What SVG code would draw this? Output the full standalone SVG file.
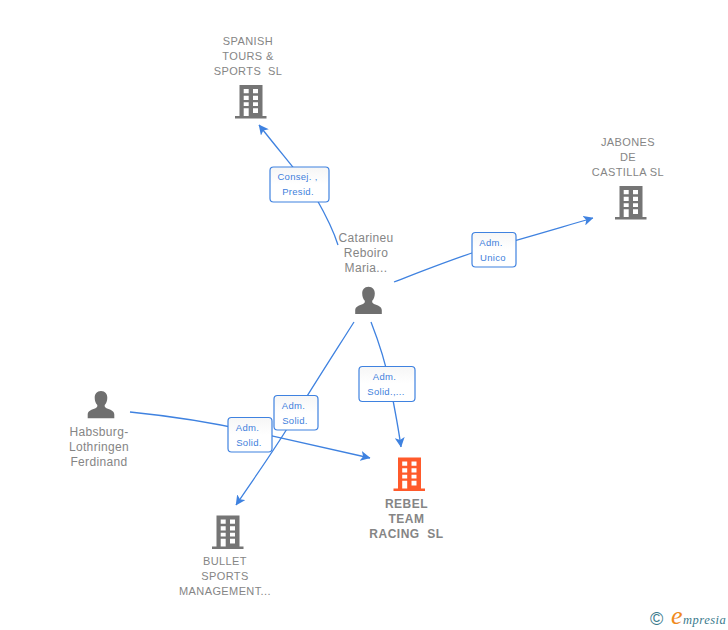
<svg xmlns="http://www.w3.org/2000/svg" width="728" height="630" viewBox="0 0 728 630">
<style>
.n{font:11px "Liberation Sans",Arial,sans-serif;fill:#858585;text-anchor:middle;letter-spacing:.4px}
.p{font:12px "Liberation Sans",Arial,sans-serif;fill:#858585;text-anchor:middle;letter-spacing:.35px}
.m{font:bold 12px "Liberation Sans",Arial,sans-serif;fill:#858585;text-anchor:middle;letter-spacing:.5px}
.l{font:9.5px "Liberation Sans",Arial,sans-serif;fill:#3f7fdc;text-anchor:middle;letter-spacing:.3px}
.c{fill:none;stroke:#3f82e0;stroke-width:1.3;marker-end:url(#a)}
.b{fill:url(#g);stroke:#3f82e0;stroke-width:1.2}
.gb{fill:#757575}.ob{fill:#ff5a2b}
</style>
<defs>
<linearGradient id="g" x1="0" y1="0" x2="0" y2="1"><stop offset="0" stop-color="#f6f6f6"/><stop offset=".5" stop-color="#fff"/></linearGradient>
<marker id="a" viewBox="0 0 10 10" refX="9.500" refY="5" markerWidth="10" markerHeight="10" markerUnits="userSpaceOnUse" orient="auto"><path d="M0 0L10 5L0 10L2.500 5Z" fill="#3f82e0"/></marker>
<symbol id="bld" viewBox="0 0 32 34" width="32" height="34" overflow="visible"><path fill-rule="evenodd" d="M4.500 0H27.500V31H31.500V33.500H0V31H4.500ZM8.700 4V8.300H13.700V4ZM18 4V8.300H23V4ZM8.700 10.700V15H13.700V10.700ZM18 10.700V15H23V10.700ZM8.700 17.300V21H13.700V17.300ZM18 17.300V21H23V17.300ZM8.700 23.300V31H13.700V23.300ZM18 23.300V28H23V23.300Z"/></symbol>
<path id="per" d="M0 0C-4.200 0-6.300 3-6.300 6.700C-6.300 9.800-5.200 12.300-3.700 14C-3.500 15.500-4 16.500-5.500 17.200C-9 18.600-13.300 19.500-13.300 23.500V27.300H13.300V23.500C13.300 19.500 9 18.600 5.500 17.200C4 16.500 3.500 15.500 3.700 14C5.200 12.300 6.300 9.800 6.300 6.700C6.300 3 4.200 0 0 0Z" fill="#6f6f6f"/>
</defs>
<g id="connectors">
<path class="c" d="M338 245C332 226 324 212 316 198C306 182 285 158 259 125"/>
<path class="c" d="M394 282C425 270 450 260 478 251C515 241 555 229 593 218"/>
<path class="c" d="M371 322C380 345 386 365 390 385C394 405 398 425 401 447"/>
<path class="c" d="M130 412C170 416 205 421 250 431C290 440 330 449 370 458"/>
<path class="c" d="M354 322C335 352 315 383 296 414C278 445 257 474 236 505"/>
</g>
<g id="label-consej"><rect class="b" x="270" y="167" width="59" height="35" rx="3.500"/><text class="l" x="297.500" y="180">Consej. ,</text><text class="l" x="298" y="195">Presid.</text></g>
<g id="label-unico"><rect class="b" x="472" y="232.500" width="44" height="34.500" rx="3.500"/><text class="l" x="491" y="246">Adm.</text><text class="l" x="493" y="261">Unico</text></g>
<g id="label-solid1"><rect class="b" x="359" y="366.500" width="56" height="35" rx="3.500"/><text class="l" x="384.500" y="380">Adm.</text><text class="l" x="386" y="395">Solid.,...</text></g>
<g id="label-solid2"><rect class="b" x="228" y="417.500" width="44" height="34.500" rx="3.500"/><text class="l" x="247.500" y="431">Adm.</text><text class="l" x="249" y="446">Solid.</text></g>
<g id="label-solid3"><rect class="b" x="274" y="395.500" width="44" height="34.500" rx="3.500"/><text class="l" x="293.500" y="409">Adm.</text><text class="l" x="295" y="424">Solid.</text></g>
<g id="spanish"><text class="n" x="248" y="45">SPANISH</text><text class="n" x="248" y="60">TOURS &amp;</text><text class="n" x="248" y="75">SPORTS&#160; SL</text><use href="#bld" class="gb" x="235" y="85"/></g>
<g id="jabones"><text class="n" x="628" y="146">JABONES</text><text class="n" x="628" y="161">DE</text><text class="n" x="628" y="176">CASTILLA SL</text><use href="#bld" class="gb" x="615" y="186"/></g>
<g id="catarineu"><text class="p" x="366" y="242">Catarineu</text><text class="p" x="366" y="257">Reboiro</text><text class="p" x="366" y="272">Maria...</text><use href="#per" x="368.500" y="286.700"/></g>
<g id="habsburg"><text class="p" x="99" y="436">Habsburg-</text><text class="p" x="99" y="451">Lothringen</text><text class="p" x="99" y="466">Ferdinand</text><use href="#per" x="101" y="391"/></g>
<g id="rebel"><use href="#bld" class="ob" x="393.500" y="457.500"/><text class="m" x="406.500" y="508">REBEL</text><text class="m" x="406.500" y="523">TEAM</text><text class="m" x="406.500" y="538">RACING&#160; SL</text></g>
<g id="bullet"><use href="#bld" class="gb" x="212" y="515.500"/><text class="n" x="225" y="565">BULLET</text><text class="n" x="225" y="580">SPORTS</text><text class="n" x="225" y="595">MANAGEMENT...</text></g>
<g id="logo"><text x="650" y="625" style="font:18px 'Liberation Sans',sans-serif;fill:#3a7a8c">©</text><text x="671" y="623.500" style="font:italic 26px 'Liberation Serif',serif;fill:#f08a1d">e</text><text x="683" y="624" style="font:italic 12.500px 'Liberation Serif',serif;fill:#3a7a8c;letter-spacing:.5px">mpresia</text></g>
</svg>
